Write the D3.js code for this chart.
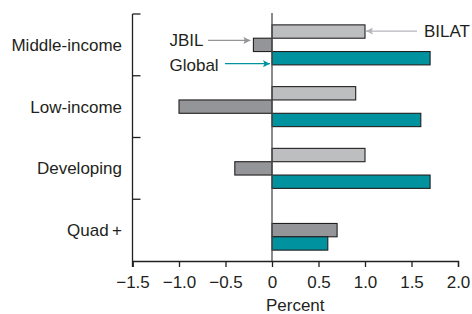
<!DOCTYPE html>
<html>
<head>
<meta charset="utf-8">
<script src="https://cdn.jsdelivr.net/npm/d3@7"></script>
<style>
  body { margin: 0; background: #fff; }
  svg text { font-family: "Liberation Sans", Arial, sans-serif; fill: #231f20; }
</style>
</head>
<body>
<div id="chart"></div>
<script>
const categories = ["Middle-income", "Low-income", "Developing", "Quad+"];
const series = ["BILAT", "JBIL", "Global"];
const bilat = [1.0, 0.9, 1.0, null];
const jbil = [-0.2, -1.0, -0.4, 0.7];
const global = [1.7, 1.6, 1.7, 0.6];
const xTicks = [-1.5, -1.0, -0.5, 0, 0.5, 1.0, 1.5, 2.0];

const colors = { BILAT: "#bcbec0", JBIL: "#939598", Global: "#00929f" };
const arrowColors = { BILAT: "#b3b5b8", JBIL: "#939598", Global: "#00929f" };
const ink = "#231f20";

const width = 472, height = 314;
const margin = { top: 14, right: 14, bottom: 53, left: 132.5 };

const rows = categories.flatMap((c, i) => [
  { cat: c, key: "BILAT", value: bilat[i] },
  { cat: c, key: "JBIL", value: jbil[i] },
  { cat: c, key: "Global", value: global[i] },
]).filter(d => d.value != null);

const x = d3.scaleLinear([-1.5, 2.0], [margin.left, width - margin.right]);
const y = d3.scaleBand(categories, [margin.top, height - margin.bottom]);
const ySub = d3.scaleBand(series, [0, y.bandwidth()]).paddingOuter(0.815);

const svg = d3.select("#chart").append("svg")
  .attr("width", width)
  .attr("height", height);

svg.append("defs").selectAll("marker")
  .data(series)
  .join("marker")
  .attr("id", d => "arrow-" + d)
  .attr("viewBox", "0 0 10 10")
  .attr("refX", 10)
  .attr("refY", 5)
  .attr("markerUnits", "userSpaceOnUse")
  .attr("markerWidth", 9)
  .attr("markerHeight", 7)
  .attr("orient", "auto")
  .append("path")
  .attr("d", "M0,0L10,5L0,10L2,5Z")
  .attr("fill", d => arrowColors[d]);

// bars
svg.append("g")
  .selectAll("rect")
  .data(rows)
  .join("rect")
  .attr("x", d => x(Math.min(0, d.value)))
  .attr("width", d => Math.abs(x(d.value) - x(0)))
  .attr("y", d => y(d.cat) + ySub(d.key))
  .attr("height", ySub.bandwidth())
  .attr("fill", d => colors[d.key])
  .attr("stroke", ink)
  .attr("stroke-width", 1.1);

// zero line
svg.append("line")
  .attr("x1", x(0)).attr("x2", x(0))
  .attr("y1", margin.top - 1).attr("y2", height - margin.bottom)
  .attr("stroke", "#4d4d4f")
  .attr("stroke-width", 1.3);

// x axis
const xAxis = svg.append("g")
  .attr("transform", `translate(0,${height - margin.bottom})`)
  .call(d3.axisBottom(x).tickValues(xTicks).tickSize(6).tickPadding(9)
    .tickFormat(d => d === 0 ? "0" : d3.format(".1f")(d).replace("-", "\u2212 ")));
xAxis.select(".domain").attr("stroke", ink).attr("stroke-width", 1.3);
xAxis.selectAll(".tick line").attr("stroke", ink).attr("stroke-width", 1.3);
xAxis.selectAll(".tick text")
  .style("font-size", "17px")
  .attr("fill", ink)
  .attr("font-family", null);

// y axis (bracket ticks pointing in)
const yTicks = categories.map(c => y(c));
svg.append("line")
  .attr("x1", margin.left).attr("x2", margin.left)
  .attr("y1", margin.top).attr("y2", height - margin.bottom + 6)
  .attr("stroke", ink).attr("stroke-width", 1.3);
svg.append("g").selectAll("line")
  .data(yTicks)
  .join("line")
  .attr("x1", margin.left).attr("x2", margin.left + 8)
  .attr("y1", d => d).attr("y2", d => d)
  .attr("stroke", ink).attr("stroke-width", 1.3);

svg.append("g").selectAll("text")
  .data(categories)
  .join("text")
  .attr("x", margin.left - 10.5)
  .attr("y", d => y(d) + y.bandwidth() / 2)
  .attr("dy", "0.36em")
  .attr("text-anchor", "end")
  .style("font-size", "17px")
  .text(d => d === "Quad+" ? "Quad\u2009+" : d);

svg.append("text")
  .attr("x", (x.range()[0] + x.range()[1]) / 2)
  .attr("y", height - 3)
  .attr("text-anchor", "middle")
  .style("font-size", "17px")
  .text("Percent");

// series labels with arrows (pointing at the Middle-income bars)
const c0 = categories[0];
const barMid = key => y(c0) + ySub(key) + ySub.bandwidth() / 2;

const notes = [
  { key: "BILAT", tx: 424, ty: barMid("BILAT") + 5, ax1: 417, ax2: x(bilat[0]) + 1, ay: barMid("BILAT") - 0.5 },
  { key: "JBIL", tx: 169.5, ty: barMid("JBIL") + 1, ax1: 208, ax2: x(jbil[0]) - 3, ay: barMid("JBIL") - 4.5 },
  { key: "Global", tx: 169.5, ty: barMid("Global") + 12.5, ax1: 225, ax2: x(0) - 2, ay: barMid("Global") + 5.5 },
];

svg.append("g").selectAll("line")
  .data(notes)
  .join("line")
  .attr("x1", d => d.ax1).attr("x2", d => d.ax2)
  .attr("y1", d => d.ay).attr("y2", d => d.ay)
  .attr("stroke", d => arrowColors[d.key])
  .attr("stroke-width", 1.2)
  .attr("marker-end", d => `url(#arrow-${d.key})`);

svg.append("g").selectAll("text")
  .data(notes)
  .join("text")
  .attr("x", d => d.tx)
  .attr("y", d => d.ty)
  .style("font-size", "17px")
  .text(d => d.key);
</script>
</body>
</html>
